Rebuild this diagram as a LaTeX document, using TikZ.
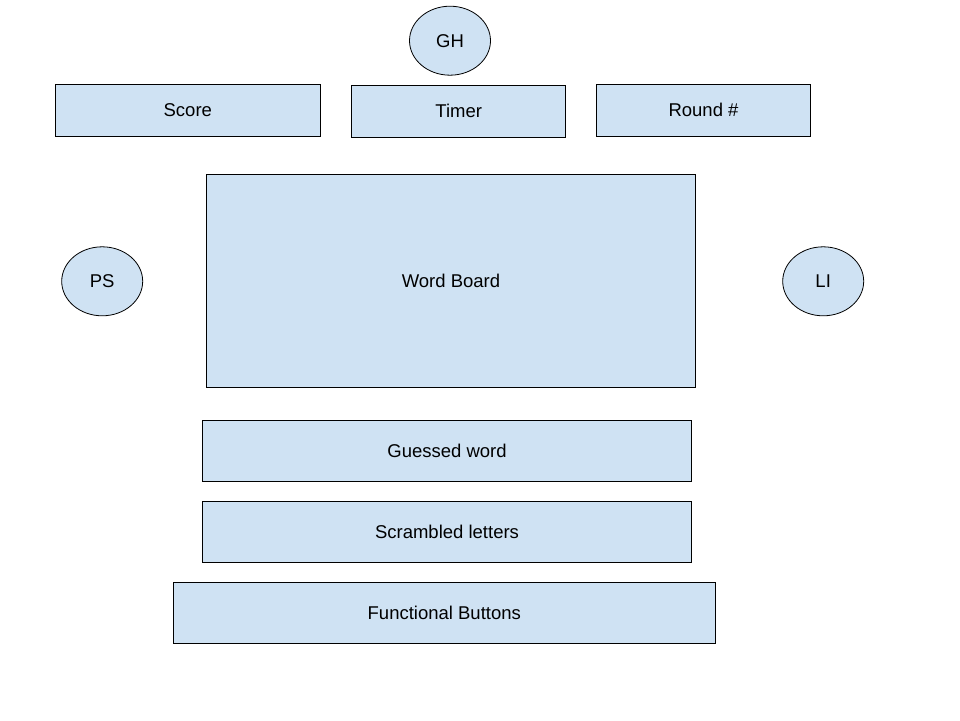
\documentclass[tikz,border=0pt]{standalone}
\usepackage{fontspec}
\setmainfont{Liberation Sans}
\usetikzlibrary{shapes.geometric}
\definecolor{boxfill}{HTML}{CFE2F3}
\tikzset{
  box/.style={draw=black, fill=boxfill, line width=1pt, inner sep=0pt, font=\fontsize{18.5}{20}\selectfont},
  oval/.style={ellipse, draw=black, fill=boxfill, line width=0.8pt, inner sep=0pt, minimum width=81pt, minimum height=69pt, font=\fontsize{18.5}{20}\selectfont}
}
\begin{document}
\begin{tikzpicture}[x=1pt,y=-1pt]
\useasboundingbox (0,0) rectangle (960,720);
\fill[white] (0,0) rectangle (960,720);
\node[oval] (gh) at (450,40.7) {GH};
\node[oval] (ps) at (102.2,281.3) {PS};
\node[oval] (li) at (823.2,281.3) {LI};
\node[box, minimum width=265pt, minimum height=52pt] (score) at (187.8,110.3) {Score};
\node[box, minimum width=214pt, minimum height=52pt] (timer) at (458.7,111.3) {Timer};
\node[box, minimum width=214pt, minimum height=52pt] (round) at (703.5,110.2) {Round \#};
\node[box, minimum width=489pt, minimum height=213pt] (board) at (451,280.8) {Word Board};
\node[box, minimum width=489pt, minimum height=61pt] (guess) at (447,451) {Guessed word};
\node[box, minimum width=489pt, minimum height=61pt] (scram) at (447,532) {Scrambled letters};
\node[box, minimum width=542pt, minimum height=61pt] (func) at (444.3,612.8) {Functional Buttons};
\end{tikzpicture}
\end{document}
